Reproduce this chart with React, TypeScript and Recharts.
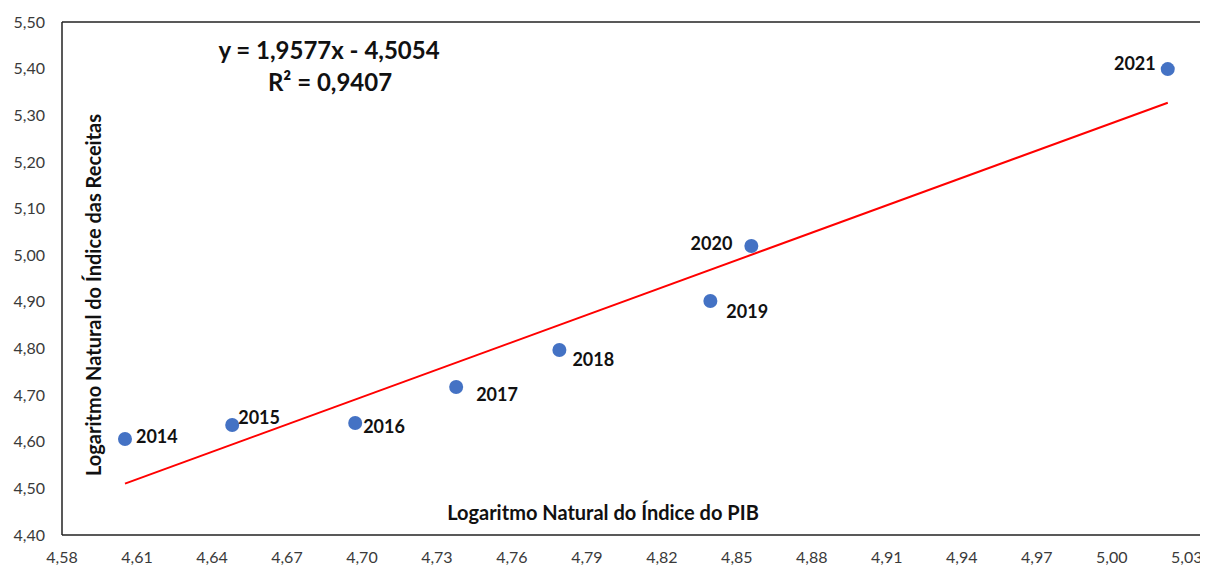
import type { FC } from "react";
import {
  ScatterChart,
  Scatter,
  XAxis,
  YAxis,
  ReferenceLine,
  LabelList,
  Customized,
} from "recharts";

const years = ["2014", "2015", "2016", "2017", "2018", "2019", "2020", "2021"];
const pibLog = [4.6052, 4.6481, 4.6973, 4.7377, 4.779, 4.8394, 4.8558, 5.0224];
const receitasLog = [4.6059, 4.6359, 4.64, 4.7173, 4.7967, 4.9018, 5.0197, 5.399];

const xTicks = [4.58, 4.61, 4.64, 4.67, 4.7, 4.73, 4.76, 4.79, 4.82, 4.85, 4.88, 4.91, 4.94, 4.97, 5.0, 5.03];
const yTicks = [4.4, 4.5, 4.6, 4.7, 4.8, 4.9, 5.0, 5.1, 5.2, 5.3, 5.4, 5.5];

// linha de tendência (regressão linear)
const slope = 1.9577;
const intercept = -4.5054;
const r2 = 0.9407;

const points = years.map((year, i) => ({ year, x: pibLog[i], y: receitasLog[i] }));

const xMin = Math.min(...pibLog);
const xMax = Math.max(...pibLog);

const FONT = "Lato, 'Open Sans', sans-serif";

// posição do rótulo de cada ano em relação ao ponto
const labelPos: Record<string, { dx: number; dy: number; anchor: "start" | "end" }> = {
  "2014": { dx: 11, dy: -3, anchor: "start" },
  "2015": { dx: 6, dy: -8, anchor: "start" },
  "2016": { dx: 8, dy: 3, anchor: "start" },
  "2017": { dx: 20, dy: 7, anchor: "start" },
  "2018": { dx: 13, dy: 9, anchor: "start" },
  "2019": { dx: 16, dy: 10, anchor: "start" },
  "2020": { dx: -19, dy: -3, anchor: "end" },
  "2021": { dx: -12, dy: -6, anchor: "end" },
};

const fmt = (v: number) => v.toFixed(2).replace(".", ",");
const fmt4 = (v: number) => Math.abs(v).toFixed(4).replace(".", ",");

const YearLabel = (props: any) => {
  const { x, y, width, height, value } = props;
  const pos = labelPos[value] || { dx: 10, dy: 0, anchor: "start" };
  const cx = x + (width || 0) / 2;
  const cy = y + (height || 0) / 2;
  return (
    <text
      x={cx + pos.dx}
      y={cy + pos.dy}
      textAnchor={pos.anchor}
      dominantBaseline="central"
      fontFamily={FONT}
      fontWeight="bold"
      fontSize={18}
      fill="#111"
    >
      {value}
    </text>
  );
};

const Annotations = () => (
  <g fontFamily={FONT} fontWeight="bold" fill="#111">
    <text x={329} y={49} textAnchor="middle" dominantBaseline="central" fontSize={24}>
      {`y = ${fmt4(slope)}x - ${fmt4(intercept)}`}
    </text>
    <text x={330} y={81} textAnchor="middle" dominantBaseline="central" fontSize={24}>
      {`R² = ${fmt4(r2)}`}
    </text>
    <text x={603} y={512} textAnchor="middle" dominantBaseline="central" fontSize={20}>
      Logaritmo Natural do Índice do PIB
    </text>
    <text
      x={93}
      y={295}
      textAnchor="middle"
      dominantBaseline="central"
      fontSize={20}
      transform="rotate(-90 93 295)"
    >
      Logaritmo Natural do Índice das Receitas
    </text>
  </g>
);

const App: FC = () => {
  return (
    <div style={{ position: "relative", margin: "-8px 0 0 -8px", width: 1208, height: 567, overflow: "hidden", background: "#fff" }}>
      <div style={{ position: "absolute", top: 0, left: 0, width: 1208, height: 4, background: "linear-gradient(#c4c4c4, #e4e4e4)" }} />
      <ScatterChart width={1208} height={567} margin={{ top: 22, right: 0, bottom: 0, left: 0 }}>
        <XAxis
          type="number"
          dataKey="x"
          domain={[4.58, 5.0385]}
          ticks={xTicks}
          allowDataOverflow
          tickFormatter={fmt}
          height={32}
          tickLine={false}
          tickMargin={11}
          axisLine={{ stroke: "#222", strokeWidth: 1.5 }}
          tick={{ fontFamily: FONT, fontSize: 16, fill: "#3a3a3a" }}
          interval={0}
        />
        <YAxis
          type="number"
          dataKey="y"
          domain={[4.4, 5.5]}
          ticks={yTicks}
          allowDataOverflow
          tickFormatter={fmt}
          width={62}
          tickLine={false}
          tickMargin={11}
          axisLine={{ stroke: "#222", strokeWidth: 1.5 }}
          tick={{ fontFamily: FONT, fontSize: 16, fill: "#3a3a3a" }}
          interval={0}
        />
        <ReferenceLine y={5.5} stroke="#222" strokeWidth={1.5} />
        <ReferenceLine
          segment={[
            { x: xMin, y: slope * xMin + intercept },
            { x: xMax, y: slope * xMax + intercept },
          ]}
          stroke="#ff0000"
          strokeWidth={2}
        />
        <Scatter
          data={points}
          fill="#4472C4"
          isAnimationActive={false}
          shape={(p: any) => <circle cx={p.cx} cy={p.cy} r={7} fill="#4472C4" />}
        >
          <LabelList dataKey="year" content={YearLabel} />
        </Scatter>
        <Customized component={Annotations} />
      </ScatterChart>
    </div>
  );
};

export default App;
